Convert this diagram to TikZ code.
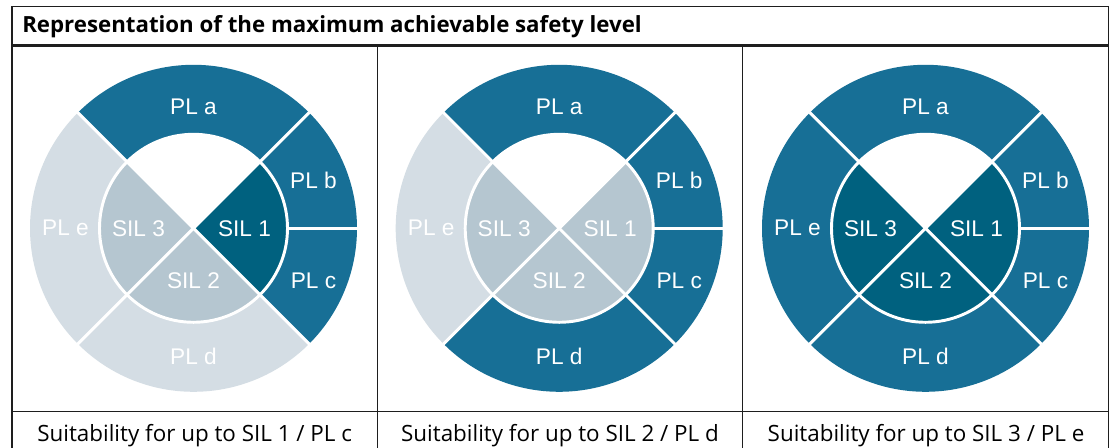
\documentclass[tikz,border=0pt]{standalone}
\usepackage{fontspec}
\setmainfont{Open Sans}
\newfontfamily\arialf{Liberation Sans}
\usetikzlibrary{calc}
\definecolor{pldark}{HTML}{176F96}
\definecolor{sildark}{HTML}{00617F}
\definecolor{pllight}{HTML}{D4DDE4}
\definecolor{sillight}{HTML}{B5C6D0}
\definecolor{gridcol}{HTML}{1E1E1E}
\tikzset{
  lbl/.style={text=white, font=\arialf\fontsize{17}{17}\selectfont, inner sep=0pt, anchor=base},
  gridline/.style={draw=gridcol, line width=1pt},
  sepline/.style={draw=white, line width=2.2pt},
}
% ring segment: center, a1, a2, color
\newcommand\ringseg[4]{%
  \fill[#4] ($(#1)+(#2:163.5)$) arc[start angle=#2, end angle=#3, radius=163.5]
    -- ($(#1)+(#3:94)$) arc[start angle=#3, end angle=#2, radius=94] -- cycle;}
\newcommand\pieseg[4]{%
  \fill[#4] (#1) -- ($(#1)+(#2:94)$) arc[start angle=#2, end angle=#3, radius=94] -- cycle;}
% panel: name, cx, PL d colour, PL e colour, SIL1, SIL2, SIL3
\newcommand\pnl[7]{%
  \coordinate (#1c) at (#2,219.7);
  \ringseg{#1c}{45}{135}{pldark}
  \ringseg{#1c}{0}{45}{pldark}
  \ringseg{#1c}{-45}{0}{pldark}
  \ringseg{#1c}{-135}{-45}{#3}
  \ringseg{#1c}{135}{225}{#4}
  \pieseg{#1c}{-45}{45}{#5}
  \pieseg{#1c}{-135}{-45}{#6}
  \pieseg{#1c}{135}{225}{#7}
  \draw[sepline] (#1c) circle[radius=94];
  \foreach \a in {45,135,225,315}{\draw[sepline] (#1c) -- ($(#1c)+(\a:164)$);}
  \draw[sepline] ($(#1c)+(0:94)$) -- ($(#1c)+(0:164)$);
  \node[lbl] (#1pla) at ($(#1c)+(0,113.5)$) {PL a};
  \node[lbl] (#1plb) at ($(#1c)+(120,39.4)$) {PL b};
  \node[lbl] (#1plc) at ($(#1c)+(120,-59.9)$) {PL c};
  \node[lbl] (#1pld) at ($(#1c)+(0,-136.6)$) {PL d};
  \node[lbl] (#1ple) at ($(#1c)+(-128,-7.2)$) {PL e};
  \node[lbl] (#1sa) at ($(#1c)+(51,-7.9)$) {SIL 1};
  \node[lbl] (#1sb) at ($(#1c)+(0,-59.9)$) {SIL 2};
  \node[lbl] (#1sc) at ($(#1c)+(-55,-7.9)$) {SIL 3};
}
\begin{document}
\begin{tikzpicture}[x=0.75pt,y=0.75pt]
  \useasboundingbox (0,0) rectangle (1111,448);
  \fill[white] (0,0) rectangle (1111,448);
  % table
  \draw[gridline] (12,-2) -- (12,441.5) -- (1108.7,441.5) -- (1108.7,-2);
  \draw[draw=gridcol, line width=2.3pt] (12,402.2) -- (1108.7,402.2);
  \draw[gridline] (377.3,402.2) -- (377.3,-2);
  \draw[gridline] (742.7,402.2) -- (742.7,-2);
  \draw[gridline] (12,36.3) -- (1108.7,36.3);
  \node[anchor=base west, inner sep=0pt, font=\bfseries\fontsize{16.7}{16.7}\selectfont] (title) at (22,415.7) {Representation of the maximum achievable safety level};
  % panels
  \pnl{p1}{193.5}{pllight}{pllight}{sildark}{sillight}{sillight}
  \pnl{p2}{559.2}{pldark}{pllight}{sillight}{sillight}{sillight}
  \pnl{p3}{925.5}{pldark}{pldark}{sildark}{sildark}{sildark}
  % footers
  \node[anchor=base, inner sep=0pt, font=\fontsize{16.8}{16.8}\selectfont] (f1) at (194.7,6.7) {Suitability for up to SIL 1 / PL c};
  \node[anchor=base, inner sep=0pt, font=\fontsize{16.8}{16.8}\selectfont] (f2) at (560,6.7) {Suitability for up to SIL 2 / PL d};
  \node[anchor=base, inner sep=0pt, font=\fontsize{16.8}{16.8}\selectfont] (f3) at (926,6.7) {Suitability for up to SIL 3 / PL e};
\end{tikzpicture}
\end{document}
